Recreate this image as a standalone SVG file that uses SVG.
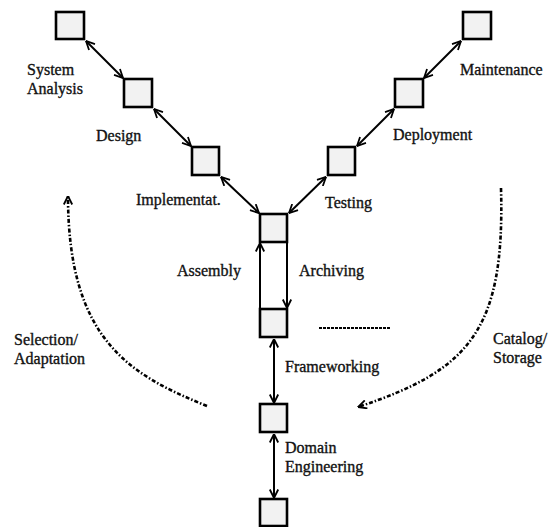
<svg xmlns="http://www.w3.org/2000/svg" width="559" height="527" viewBox="0 0 559 527">
<style>
.box{fill:#f2f2f2;stroke:#000;stroke-width:2.6}
.lbl{font-family:"Liberation Serif","Times New Roman",serif;font-size:16px;fill:#111;stroke:#111;stroke-width:0.35}
.con{stroke:#000;stroke-width:2;fill:none}
.dd{stroke:#000;stroke-width:2.6;fill:none;stroke-dasharray:4 2 1.5 2}
</style>
<defs>
<marker id="ah" viewBox="0 0 10 10" refX="9.5" refY="5" markerWidth="10" markerHeight="10" markerUnits="userSpaceOnUse" orient="auto-start-reverse">
<path d="M1,0.8 L9.5,5 L1,9.2" fill="none" stroke="#000" stroke-width="1.8"/>
</marker>
</defs>
<rect width="559" height="527" fill="#fff"/>
<g id="connectors">
<line class="con" x1="86" y1="41" x2="123" y2="78" marker-start="url(#ah)" marker-end="url(#ah)"/>
<line class="con" x1="154" y1="109" x2="191" y2="146" marker-start="url(#ah)" marker-end="url(#ah)"/>
<line class="con" x1="221" y1="177" x2="259" y2="213" marker-start="url(#ah)" marker-end="url(#ah)"/>
<line class="con" x1="461" y1="41" x2="424" y2="78" marker-start="url(#ah)" marker-end="url(#ah)"/>
<line class="con" x1="394" y1="109" x2="357" y2="146" marker-start="url(#ah)" marker-end="url(#ah)"/>
<line class="con" x1="326" y1="177" x2="289" y2="213" marker-start="url(#ah)" marker-end="url(#ah)"/>
<line class="con" x1="260" y1="309" x2="260" y2="243" marker-end="url(#ah)"/>
<line class="con" x1="287" y1="242" x2="287" y2="308" marker-end="url(#ah)"/>
<line class="con" x1="274" y1="339" x2="274" y2="403" marker-start="url(#ah)" marker-end="url(#ah)"/>
<line class="con" x1="274" y1="434" x2="274" y2="498" marker-start="url(#ah)" marker-end="url(#ah)"/>
<path class="dd" d="M207,406 C130,375 68,340 68,196" marker-end="url(#ah)"/>
<path class="dd" d="M501,188 C505,330 470,370 358,407" marker-end="url(#ah)"/>
<line x1="319" y1="328" x2="390" y2="328" stroke="#000" stroke-width="2" stroke-dasharray="3 1"/>
</g>
<g id="n-system-analysis"><rect class="box" x="56" y="12" width="28" height="27"/></g>
<g id="n-design"><rect class="box" x="124" y="79" width="28" height="28"/></g>
<g id="n-implementation"><rect class="box" x="192" y="147" width="27" height="28"/></g>
<g id="n-maintenance"><rect class="box" x="463" y="12" width="28" height="27"/></g>
<g id="n-deployment"><rect class="box" x="395" y="79" width="28" height="28"/></g>
<g id="n-testing"><rect class="box" x="328" y="147" width="27" height="28"/></g>
<g id="n-center"><rect class="box" x="260" y="214" width="27" height="28"/></g>
<g id="n-asset"><rect class="box" x="260" y="309" width="27" height="28"/></g>
<g id="n-framework"><rect class="box" x="260" y="404" width="27" height="28"/></g>
<g id="n-domain"><rect class="box" x="260" y="499" width="27" height="27"/></g>
<g id="labels">
<text class="lbl" x="27" y="75">System</text>
<text class="lbl" x="27" y="94">Analysis</text>
<text class="lbl" x="96" y="141">Design</text>
<text class="lbl" x="136" y="205">Implementat.</text>
<text class="lbl" x="460" y="75">Maintenance</text>
<text class="lbl" x="393" y="140">Deployment</text>
<text class="lbl" x="325" y="208">Testing</text>
<text class="lbl" x="177" y="276">Assembly</text>
<text class="lbl" x="299" y="276">Archiving</text>
<text class="lbl" x="14" y="345">Selection/</text>
<text class="lbl" x="14" y="364">Adaptation</text>
<text class="lbl" x="285" y="372">Frameworking</text>
<text class="lbl" x="493" y="344">Catalog/</text>
<text class="lbl" x="493" y="363">Storage</text>
<text class="lbl" x="285" y="453">Domain</text>
<text class="lbl" x="285" y="472">Engineering</text>
</g>
</svg>
